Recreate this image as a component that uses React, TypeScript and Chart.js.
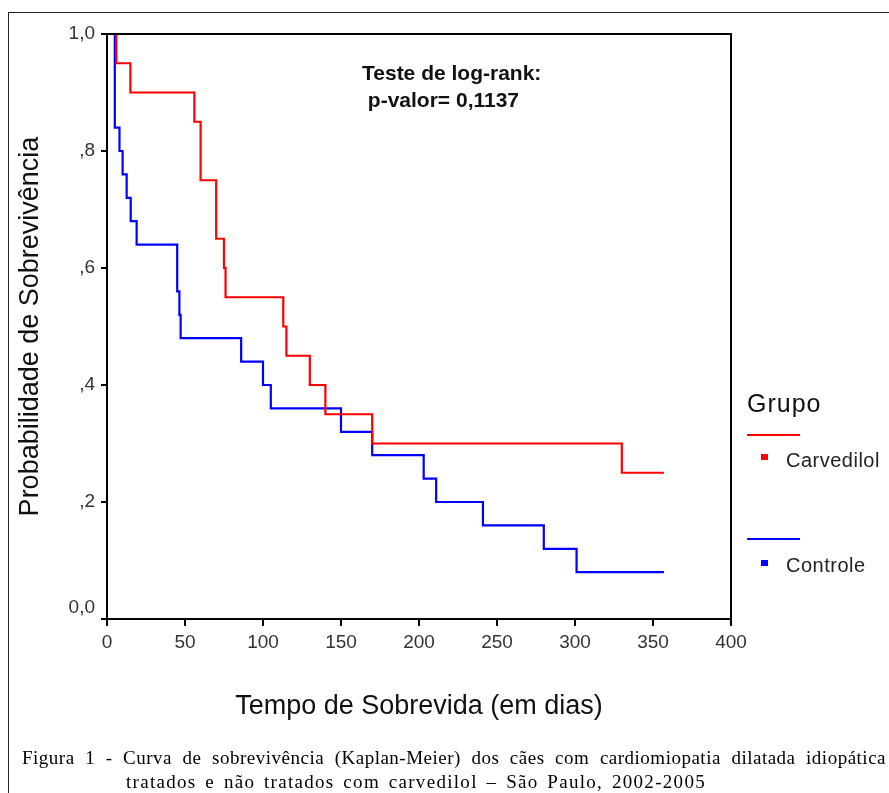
import React, { useEffect, useRef } from 'react';
import Chart from 'chart.js/auto';

// Kaplan-Meier steps (days, survival probability)
const carvedilolDays = [0, 6, 15, 56, 60, 70, 75, 76, 113, 115, 130, 140, 170, 330, 357];
const carvedilolSurvival = [1.0, 0.95, 0.9, 0.85, 0.75, 0.65, 0.6, 0.55, 0.5, 0.45, 0.4, 0.35, 0.3, 0.25, 0.25];
const controleDays = [0, 5, 8, 10, 12.6, 15.2, 19, 45, 46.4, 47.2, 86, 100, 105, 150, 170, 203, 211, 241, 280, 301, 357];
const controleSurvival = [1.0, 0.84, 0.8, 0.76, 0.72, 0.68, 0.64, 0.56, 0.52, 0.48, 0.44, 0.4, 0.36, 0.32, 0.28, 0.24, 0.2, 0.16, 0.12, 0.08, 0.08];

const seriesNames = ['Carvedilol', 'Controle'];
const seriesColors = ['#ff0000', '#0000ff'];

const yTickValues = [0, 0.2, 0.4, 0.6, 0.8, 1.0];
const yTickLabels = ['0,0', ',2', ',4', ',6', ',8', '1,0'];
const xTickValues = [0, 50, 100, 150, 200, 250, 300, 350, 400];

const xTitle = 'Tempo de Sobrevida (em dias)';
const yTitle = 'Probabilidade de Sobrevivência';
const annotationLines = ['Teste de log-rank:', ' p-valor= 0,1137'];
const legendTitle = 'Grupo';
const captionLine1 = 'Figura 1 - Curva de sobrevivência (Kaplan-Meier) dos cães com cardiomiopatia dilatada idiopática';
const captionLine2 = 'tratados e não tratados com carvedilol – São Paulo, 2002-2005';

const SANS = '"Liberation Sans", Arial, sans-serif';
const SERIF = '"Liberation Serif", "Times New Roman", serif';

const framePlugin = {
  id: 'plotFrame',
  afterDatasetsDraw(chart: any) {
    const { ctx, chartArea } = chart;
    const { left, top, right, bottom } = chartArea;
    ctx.save();
    ctx.strokeStyle = '#000';
    ctx.lineWidth = 2;
    ctx.beginPath();
    ctx.moveTo(left, top);
    ctx.lineTo(right, top);
    ctx.lineTo(right, bottom);
    ctx.stroke();
    ctx.restore();
  },
};

export default function App() {
  const canvasRef = useRef<HTMLCanvasElement | null>(null);

  useEffect(() => {
    if (!canvasRef.current) return;
    const toPoints = (xs: number[], ys: number[]) => xs.map((x, i) => ({ x, y: ys[i] }));
    const chart = new Chart(canvasRef.current, {
      type: 'line',
      data: {
        datasets: [
          {
            label: seriesNames[0],
            data: toPoints(carvedilolDays, carvedilolSurvival),
            borderColor: seriesColors[0],
            backgroundColor: seriesColors[0],
            borderWidth: 2.2,
            pointRadius: 0,
            stepped: 'before',
            fill: false,
          },
          {
            label: seriesNames[1],
            data: toPoints(controleDays, controleSurvival),
            borderColor: seriesColors[1],
            backgroundColor: seriesColors[1],
            borderWidth: 2.2,
            pointRadius: 0,
            stepped: 'before',
            fill: false,
          },
        ],
      },
      options: {
        animation: false,
        responsive: true,
        maintainAspectRatio: false,
        layout: { padding: { left: 0, top: 34, right: 158, bottom: 70 } },
        plugins: {
          legend: { display: false },
          tooltip: { enabled: false },
        },
        scales: {
          x: {
            type: 'linear',
            min: 0,
            max: 400,
            afterBuildTicks: (scale: any) => {
              scale.ticks = xTickValues.map((v) => ({ value: v }));
            },
            afterFit: (scale: any) => {
              scale.height = 104;
            },
            ticks: {
              color: '#333',
              font: { family: SANS, size: 19 },
              padding: 5,
              maxRotation: 0,
              callback: (v: any) => String(v),
            },
            grid: { drawOnChartArea: false, drawTicks: true, tickLength: 7, color: '#000', lineWidth: 2 },
            border: { display: true, color: '#000', width: 2 },
            title: {
              display: true,
              text: xTitle,
              color: '#111',
              font: { family: SANS, size: 27 },
              padding: 0,
            },
          },
          y: {
            type: 'linear',
            min: 0,
            max: 1,
            afterBuildTicks: (scale: any) => {
              scale.ticks = yTickValues.map((v) => ({ value: v }));
            },
            afterFit: (scale: any) => {
              scale.width = 107;
            },
            ticks: {
              color: '#333',
              font: { family: SANS, size: 19 },
              padding: 6,
              callback: (_v: any, i: number) => (i === 0 ? [yTickLabels[i], ''] : yTickLabels[i]),
            },
            grid: { drawOnChartArea: false, drawTicks: true, tickLength: 6, color: '#000', lineWidth: 2 },
            border: { display: true, color: '#000', width: 2 },
            title: {
              display: true,
              text: yTitle,
              color: '#111',
              font: { family: SANS, size: 27 },
              padding: { top: 14, bottom: 0 },
            },
          },
        },
      },
      plugins: [framePlugin],
    } as any);
    return () => chart.destroy();
  }, []);

  const textBase: React.CSSProperties = { position: 'absolute', whiteSpace: 'pre', lineHeight: 1 };

  return (
    <div style={{ position: 'absolute', left: 0, top: 0, width: 889, height: 793, background: '#fff', overflow: 'hidden' }}>
      {/* outer figure frame */}
      <div style={{ position: 'absolute', left: 8, top: 12, width: 900, height: 800, borderLeft: '1px solid #222', borderTop: '1px solid #222' }} />
      <canvas ref={canvasRef} style={{ position: 'absolute', left: 0, top: 0, width: 889, height: 793 }} />

      {/* annotation */}
      <div style={{ ...textBase, left: 362, top: 62, fontFamily: SANS, fontWeight: 'bold', fontSize: 21, color: '#111' }}>{annotationLines[0]}</div>
      <div style={{ ...textBase, left: 362, top: 89, fontFamily: SANS, fontWeight: 'bold', fontSize: 21, color: '#111' }}>{annotationLines[1]}</div>

      {/* legend */}
      <div style={{ ...textBase, left: 747, top: 391, fontFamily: SANS, fontSize: 25, letterSpacing: 1, color: '#111' }}>{legendTitle}</div>
      <div style={{ position: 'absolute', left: 747, top: 434, width: 53, height: 2, background: seriesColors[0] }} />
      <div style={{ position: 'absolute', left: 761, top: 454, width: 7, height: 6, background: seriesColors[0] }} />
      <div style={{ ...textBase, left: 786, top: 450, fontFamily: SANS, fontSize: 20, letterSpacing: 0.5, color: '#222' }}>{seriesNames[0]}</div>
      <div style={{ position: 'absolute', left: 747, top: 538, width: 53, height: 2, background: seriesColors[1] }} />
      <div style={{ position: 'absolute', left: 761, top: 560, width: 7, height: 6, background: seriesColors[1] }} />
      <div style={{ ...textBase, left: 786, top: 555, fontFamily: SANS, fontSize: 20, letterSpacing: 0.5, color: '#222' }}>{seriesNames[1]}</div>

      {/* caption */}
      <div style={{ position: 'absolute', left: 22, top: 748, width: 864, fontFamily: SERIF, fontSize: 19, lineHeight: 1, color: '#000', textAlign: 'justify', textAlignLast: 'justify', letterSpacing: 0.5, whiteSpace: 'nowrap' }}>{captionLine1}</div>
      <div style={{ position: 'absolute', left: 126, top: 772, width: 580, fontFamily: SERIF, fontSize: 19, lineHeight: 1, color: '#000', textAlign: 'justify', textAlignLast: 'justify', letterSpacing: 1.3, whiteSpace: 'nowrap' }}>{captionLine2}</div>
    </div>
  );
}
